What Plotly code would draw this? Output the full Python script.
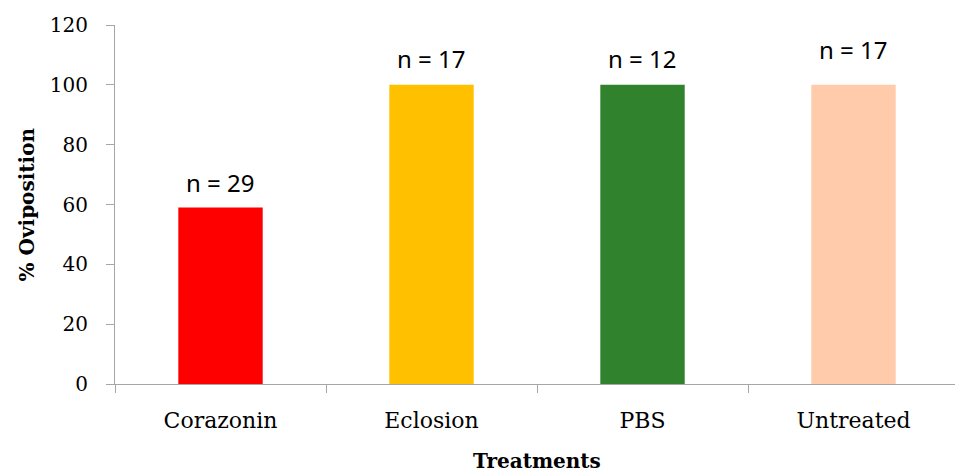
import plotly.graph_objects as go

# Oviposition rate per treatment
treatments = ["Corazonin", "Eclosion", "PBS", "Untreated"]
oviposition_pct = [59, 100, 100, 100]
sample_sizes = ["n = 29", "n = 17", "n = 12", "n = 17"]
bar_colors = ["#FF0000", "#FFC000", "#31822C", "#FFCBAA"]

# vertical pixel offset of each sample-size label above its bar
label_offsets = [25, 26, 26, 35]

axis_gray = "#A6A6A6"
serif = "DejaVu Serif"

fig = go.Figure(
    go.Bar(
        x=treatments,
        y=oviposition_pct,
        marker=dict(color=bar_colors, line=dict(width=0)),
        width=0.4,
        hoverinfo="x+y",
    )
)

for cat, val, txt, off in zip(treatments, oviposition_pct, sample_sizes, label_offsets):
    fig.add_annotation(
        x=cat, y=val, xref="x", yref="y",
        text=txt, showarrow=False,
        yshift=off, yanchor="middle", xanchor="center",
        font=dict(family="Noto Sans", size=24, color="#000000"),
    )

# axis titles
fig.add_annotation(
    x=0.502, y=-0.2145, xref="paper", yref="paper",
    text="<b>Treatments</b>", showarrow=False,
    xanchor="center", yanchor="middle",
    font=dict(family=serif, size=20, color="#000000"),
)
fig.add_annotation(
    x=-0.1048, y=0.5, xref="paper", yref="paper",
    text="<b>% Oviposition</b>", showarrow=False, textangle=-90,
    xanchor="center", yanchor="middle",
    font=dict(family=serif, size=20, color="#000000"),
)

fig.update_layout(
    width=955,
    height=472,
    margin=dict(l=115, r=0, t=25, b=88, pad=0),
    paper_bgcolor="white",
    plot_bgcolor="white",
    showlegend=False,
    bargap=0.6,
)

fig.update_xaxes(
    type="category",
    range=[-0.5, 3.481],
    showline=True, linecolor=axis_gray, linewidth=1,
    ticks="outside", tickson="boundaries", ticklen=8, tickcolor=axis_gray,
    showgrid=False, zeroline=False,
    tickfont=dict(family=serif, size=22, color="#000000"),
    ticklabelstandoff=17,
)
fig.update_yaxes(
    range=[0, 120], dtick=20, tick0=0,
    showline=True, linecolor=axis_gray, linewidth=1,
    ticks="outside", ticklen=8, tickcolor=axis_gray,
    showgrid=False, zeroline=False,
    tickfont=dict(family=serif, size=20, color="#000000"),
    ticklabelstandoff=14,
)

fig.write_html("out.html")
